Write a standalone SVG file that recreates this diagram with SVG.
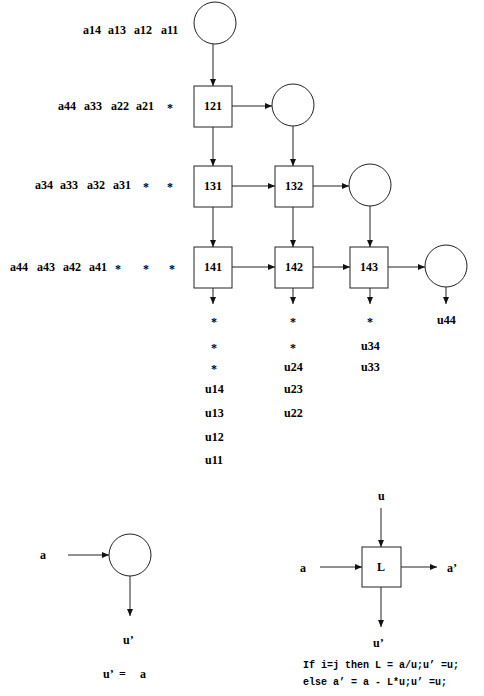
<svg xmlns="http://www.w3.org/2000/svg" width="484" height="696" viewBox="0 0 484 696">
<style>
.n{fill:#fff;stroke:#222;stroke-width:1}
.t{font-family:"Liberation Serif",serif;font-weight:bold;font-size:12px;fill:#000}
.c{text-anchor:middle}
.m{font-family:"Liberation Mono",monospace;font-weight:bold;font-size:10px;fill:#000}
.e{stroke:#222;stroke-width:1;fill:none;marker-end:url(#ah)}
</style>
<defs>
<marker id="ah" markerWidth="8" markerHeight="8" refX="7" refY="4" orient="auto" markerUnits="userSpaceOnUse">
<path d="M0,1 L7,4 L0,7 Z" fill="#111"/>
</marker>
</defs>
<rect width="484" height="696" fill="#fff"/>
<g id="labels">
<text class="t" x="83" y="34">a14</text><text class="t" x="108" y="34">a13</text><text class="t" x="134" y="34">a12</text><text class="t" x="161" y="34">a11</text>
<text class="t" x="58" y="110">a44</text><text class="t" x="84" y="110">a33</text><text class="t" x="111" y="110">a22</text><text class="t" x="136" y="110">a21</text><text class="t c" x="170" y="112">*</text>
<text class="t" x="35" y="189">a34</text><text class="t" x="60" y="189">a33</text><text class="t" x="87" y="189">a32</text><text class="t" x="113" y="189">a31</text><text class="t c" x="146" y="191">*</text><text class="t c" x="170" y="191">*</text>
<text class="t" x="10" y="271">a44</text><text class="t" x="37" y="271">a43</text><text class="t" x="63" y="271">a42</text><text class="t" x="89" y="271">a41</text><text class="t c" x="118" y="273">*</text><text class="t c" x="146" y="273">*</text><text class="t c" x="172" y="273">*</text>
</g>
<g id="c11"><circle class="n" cx="215" cy="23" r="21"/></g>
<g id="c22"><circle class="n" cx="293" cy="105" r="21"/></g>
<g id="c33"><circle class="n" cx="370" cy="185" r="21"/></g>
<g id="c44"><circle class="n" cx="446" cy="266" r="21"/></g>
<g id="b121"><rect class="n" x="194" y="86" width="38" height="41"/><text class="t c" x="213" y="110">121</text></g>
<g id="b131"><rect class="n" x="194" y="166" width="38" height="41"/><text class="t c" x="213" y="190">131</text></g>
<g id="b132"><rect class="n" x="275" y="166" width="38" height="41"/><text class="t c" x="294" y="190">132</text></g>
<g id="b141"><rect class="n" x="194" y="247" width="38" height="41"/><text class="t c" x="213" y="271">141</text></g>
<g id="b142"><rect class="n" x="275" y="247" width="38" height="41"/><text class="t c" x="294" y="271">142</text></g>
<g id="b143"><rect class="n" x="350" y="247" width="38" height="41"/><text class="t c" x="369" y="271">143</text></g>
<g id="connectors">
<line class="e" x1="213" y1="44" x2="213" y2="86"/>
<line class="e" x1="232" y1="106" x2="272" y2="106"/>
<line class="e" x1="293" y1="126" x2="293" y2="166"/>
<line class="e" x1="213" y1="127" x2="213" y2="166"/>
<line class="e" x1="232" y1="186" x2="275" y2="186"/>
<line class="e" x1="313" y1="186" x2="349" y2="186"/>
<line class="e" x1="370" y1="206" x2="370" y2="247"/>
<line class="e" x1="213" y1="207" x2="213" y2="247"/>
<line class="e" x1="293" y1="207" x2="293" y2="247"/>
<line class="e" x1="232" y1="267" x2="275" y2="267"/>
<line class="e" x1="313" y1="267" x2="350" y2="267"/>
<line class="e" x1="388" y1="267" x2="425" y2="267"/>
<line class="e" x1="213" y1="288" x2="213" y2="304"/>
<line class="e" x1="293" y1="288" x2="293" y2="304"/>
<line class="e" x1="370" y1="288" x2="370" y2="304"/>
<line class="e" x1="446" y1="287" x2="446" y2="304"/>
<line class="e" x1="68" y1="555" x2="109" y2="555"/>
<line class="e" x1="130" y1="576" x2="130" y2="616"/>
<line class="e" x1="381" y1="508" x2="381" y2="547"/>
<line class="e" x1="320" y1="567" x2="362" y2="567"/>
<line class="e" x1="401" y1="567" x2="437" y2="567"/>
<line class="e" x1="381" y1="587" x2="381" y2="627"/>
</g>
<g id="outputs">
<text class="t c" x="214" y="326">*</text><text class="t c" x="214" y="352">*</text><text class="t c" x="214" y="373">*</text>
<text class="t" x="205" y="393">u14</text><text class="t" x="205" y="417">u13</text><text class="t" x="205" y="441">u12</text><text class="t" x="205" y="464">u11</text>
<text class="t c" x="293" y="326">*</text><text class="t c" x="293" y="352">*</text>
<text class="t" x="284" y="371">u24</text><text class="t" x="284" y="393">u23</text><text class="t" x="284" y="417">u22</text>
<text class="t c" x="370" y="326">*</text>
<text class="t" x="361" y="350">u34</text><text class="t" x="361" y="371">u33</text>
<text class="t" x="437" y="324">u44</text>
</g>
<g id="pe1"><circle class="n" cx="130" cy="555" r="21"/></g>
<g id="legend1">
<text class="t" x="40" y="559">a</text>
<text class="t" x="123" y="644">u’</text>
<text class="t" x="103" y="678">u’</text><text class="t" x="119" y="678">=</text><text class="t" x="140" y="678">a</text>
</g>
<g id="pe2"><rect class="n" x="362" y="547" width="39" height="40"/><text class="t c" x="381" y="571">L</text></g>
<g id="legend2">
<text class="t" x="378" y="500">u</text>
<text class="t" x="300" y="572">a</text>
<text class="t" x="447" y="572">a’</text>
<text class="t" x="373" y="647">u’</text>
<text class="m" x="303" y="668">If i=j then L = a/u;u’ =u;</text>
<text class="m" x="303" y="685">else a’ = a - L*u;u’ =u;</text>
</g>
</svg>
